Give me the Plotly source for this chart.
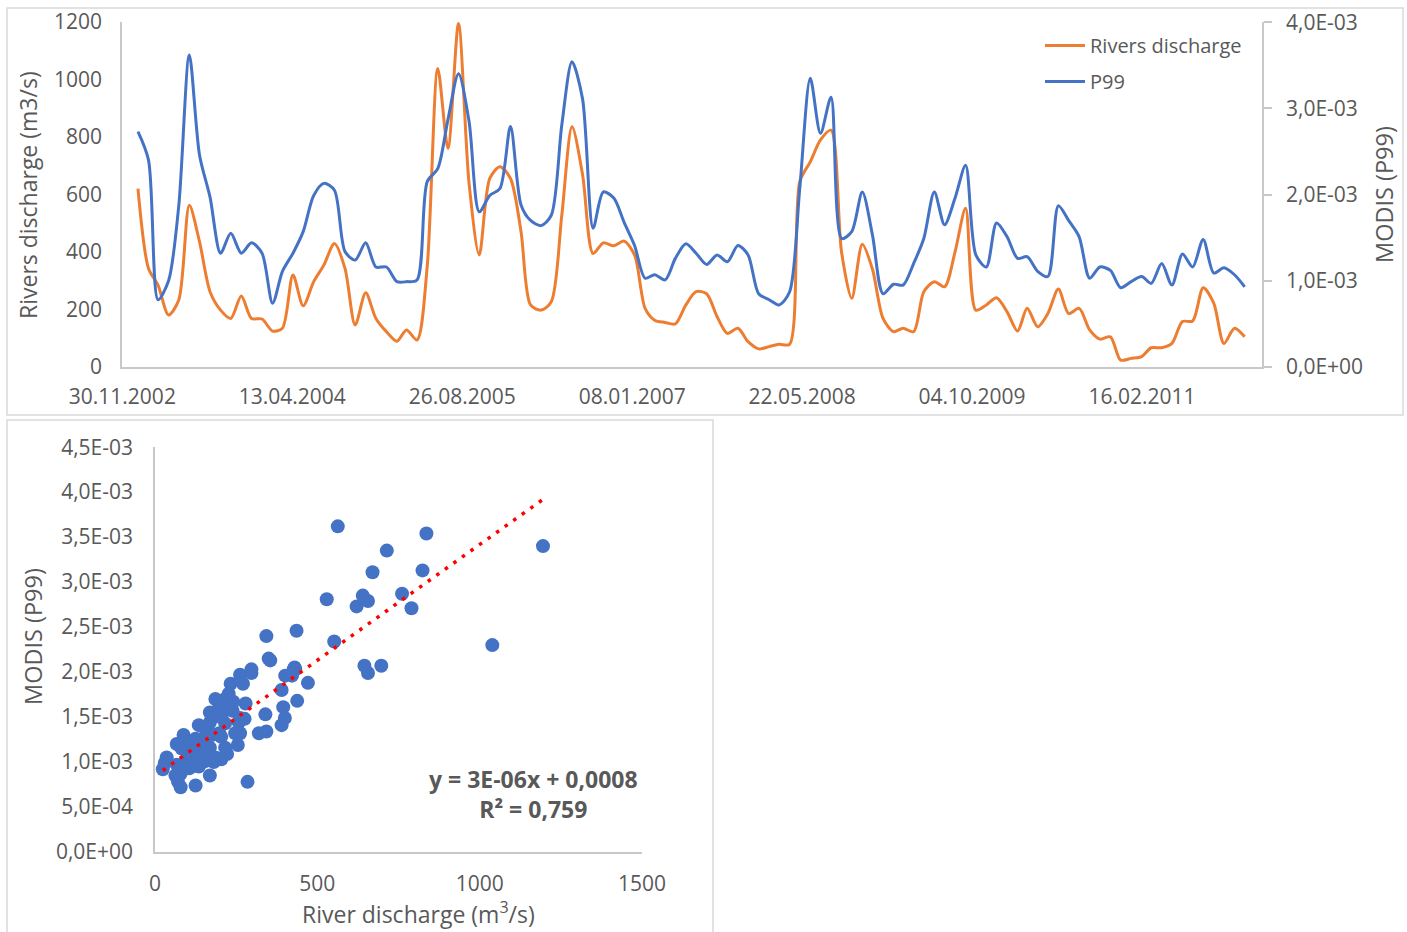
import numpy as np
import pandas as pd
import plotly.graph_objects as go

# ---------------- data ----------------
tick_labels = ["30.11.2002", "13.04.2004", "26.08.2005", "08.01.2007",
               "22.05.2008", "04.10.2009", "16.02.2011"]

# monthly values, Jan 2003 .. Dec 2011
dates = pd.date_range("2003-01-01", periods=108, freq="MS") + pd.Timedelta(days=14)

discharge = [621, 343, 285, 181, 233, 563, 436, 262, 198, 169, 247, 169,
             167, 125, 135, 320, 213, 297, 355, 430, 343, 146, 258, 169,
             123, 90, 129, 94, 350, 1039, 761, 1195, 640, 390, 656, 697,
             656, 471, 216, 198, 227, 529, 836, 670, 395, 432, 422, 438,
             390, 204, 163, 155, 150, 216, 262, 255, 175, 117, 135, 88,
             63, 71, 79, 79, 645, 714, 790, 824, 400, 239, 427, 340,
             169, 123, 135, 123, 262, 297, 279, 401, 552, 198, 216, 241,
             192, 125, 204, 140, 186, 271, 186, 204, 129, 97, 105, 24,
             30, 36, 67, 67, 82, 158, 160, 276, 222, 82, 135, 105]

p99 = [2.73e-3, 2.40e-3, 0.78e-3, 1.00e-3, 1.87e-3, 3.62e-3, 2.46e-3, 1.97e-3, 1.32e-3, 1.55e-3, 1.32e-3, 1.44e-3,
       1.32e-3, 0.74e-3, 1.11e-3, 1.32e-3, 1.57e-3, 1.99e-3, 2.13e-3, 2.05e-3, 1.34e-3, 1.24e-3, 1.44e-3, 1.16e-3,
       1.16e-3, 0.99e-3, 0.99e-3, 1.01e-3, 2.15e-3, 2.30e-3, 2.87e-3, 3.40e-3, 2.85e-3, 1.80e-3, 1.99e-3, 2.07e-3,
       2.79e-3, 1.88e-3, 1.70e-3, 1.64e-3, 1.76e-3, 2.81e-3, 3.54e-3, 3.11e-3, 1.61e-3, 2.03e-3, 1.96e-3, 1.68e-3,
       1.41e-3, 1.03e-3, 1.07e-3, 1.01e-3, 1.26e-3, 1.43e-3, 1.32e-3, 1.19e-3, 1.30e-3, 1.22e-3, 1.41e-3, 1.30e-3,
       0.85e-3, 0.78e-3, 0.72e-3, 0.87e-3, 2.07e-3, 3.35e-3, 2.71e-3, 3.13e-3, 1.49e-3, 1.57e-3, 2.03e-3, 1.53e-3,
       0.85e-3, 0.96e-3, 0.95e-3, 1.20e-3, 1.49e-3, 2.03e-3, 1.65e-3, 1.96e-3, 2.34e-3, 1.30e-3, 1.16e-3, 1.67e-3,
       1.51e-3, 1.26e-3, 1.28e-3, 1.11e-3, 1.05e-3, 1.87e-3, 1.70e-3, 1.51e-3, 1.03e-3, 1.16e-3, 1.12e-3, 0.92e-3,
       0.99e-3, 1.05e-3, 0.97e-3, 1.20e-3, 0.95e-3, 1.31e-3, 1.16e-3, 1.48e-3, 1.09e-3, 1.15e-3, 1.07e-3, 0.93e-3]

left_ticks = [0, 200, 400, 600, 800, 1000, 1200]
right_tickvals = [0, 1e-3, 2e-3, 3e-3, 4e-3]
right_ticktext = ["0,0E+00", "1,0E-03", "2,0E-03", "3,0E-03", "4,0E-03"]
sc_ytickvals = [0, 0.5e-3, 1e-3, 1.5e-3, 2e-3, 2.5e-3, 3e-3, 3.5e-3, 4e-3, 4.5e-3]
sc_yticktext = ["0,0E+00", "5,0E-04", "1,0E-03", "1,5E-03", "2,0E-03",
                "2,5E-03", "3,0E-03", "3,5E-03", "4,0E-03", "4,5E-03"]
sc_xticks = [0, 500, 1000, 1500]

# ---------------- style ----------------
W, H = 1407, 932
FONT = "Open Sans"
TXT = "#595959"
ORANGE = "#ED7D31"
BLUE = "#4472C4"
AXC = "#C8C8C8"


def px(x):
    return x / W


def py(y):
    return 1 - y / H


fig = go.Figure()

fig.add_trace(go.Scatter(x=dates, y=discharge, name="Rivers discharge", mode="lines",
                         legendgroup="a",
                         line=dict(color=ORANGE, width=3, shape="spline", smoothing=0.8),
                         xaxis="x", yaxis="y"))
fig.add_trace(go.Scatter(x=dates, y=p99, name="P99", mode="lines", legendgroup="b",
                         line=dict(color=BLUE, width=3, shape="spline", smoothing=0.8),
                         xaxis="x", yaxis="y2"))

# scatter
fig.add_trace(go.Scatter(x=discharge, y=p99, mode="markers", showlegend=False,
                         marker=dict(color=BLUE, size=14, line=dict(width=0)),
                         xaxis="x2", yaxis="y3"))
slope, intercept = np.polyfit(discharge, p99, 1)
xs = np.array([min(discharge), max(discharge)])
fig.add_trace(go.Scatter(x=xs, y=slope * xs + intercept, mode="lines", showlegend=False,
                         line=dict(color="#FF0000", width=3.5, dash="3.5px,7px"),
                         xaxis="x2", yaxis="y3"))

tick_dates = pd.to_datetime(tick_labels, format="%d.%m.%Y")

common = dict(showgrid=False, zeroline=False, showline=True, linecolor=AXC,
              linewidth=1.5, automargin=False)


def ann(text, x, y, size, angle=0):
    return dict(text=text, x=px(x), y=py(y), xref="paper", yref="paper",
                xanchor="center", yanchor="middle", textangle=angle,
                showarrow=False, align="center", font=dict(size=size, color=TXT))


fig.update_layout(
    width=W, height=H, autosize=False,
    margin=dict(l=0, r=0, t=0, b=0, pad=0),
    paper_bgcolor="white", plot_bgcolor="white",
    font=dict(family=FONT, size=21, color=TXT),
    xaxis=dict(domain=[px(122), px(1262)], anchor="y",
               range=["2002-11-29", "2012-02-04"],
               tickvals=tick_dates, ticktext=tick_labels,
               ticks="", ticklabelstandoff=10, tickfont=dict(size=21, color=TXT), **common),
    yaxis=dict(domain=[py(367), py(22)], anchor="x", range=[0, 1200.5],
               tickvals=left_ticks, ticks="",
               ticklabelstandoff=14, tickfont=dict(size=21, color=TXT), **common),
    yaxis2=dict(overlaying="y", side="right", anchor="x", range=[0, 4.0017e-3],
                tickvals=right_tickvals, ticktext=right_ticktext,
                ticks="outside", ticklen=8, tickcolor=AXC, tickwidth=1.5,
                ticklabelstandoff=10, tickfont=dict(size=21, color=TXT), **common),
    xaxis2=dict(domain=[px(155), px(642)], anchor="y3", range=[0, 1500],
                tickvals=sc_xticks, ticks="", ticklabelstandoff=12,
                tickfont=dict(size=21, color=TXT), **common),
    yaxis3=dict(domain=[py(852), py(447)], anchor="x2", range=[0, 4.5e-3 * 1.0004],
                tickvals=sc_ytickvals, ticktext=sc_yticktext,
                ticks="", ticklabelstandoff=16, tickfont=dict(size=21, color=TXT), **common),
    legend=dict(x=px(1040), y=py(26), xanchor="left", yanchor="top",
                bgcolor="rgba(0,0,0,0)", font=dict(size=20, color=TXT),
                itemwidth=40, tracegroupgap=7),
    shapes=[
        dict(type="rect", xref="paper", yref="paper", x0=px(7), x1=px(1403),
             y0=py(415), y1=py(8), line=dict(color="#D9D9D9", width=1.5)),
        dict(type="rect", xref="paper", yref="paper", x0=px(7), x1=px(713),
             y0=py(940), y1=py(420), line=dict(color="#D9D9D9", width=1.5)),
    ],
    annotations=[
        ann("Rivers discharge (m3/s)", 28, 195, 23, -90),
        ann("MODIS (P99)", 1384, 195, 23.5, -90),
        ann("MODIS (P99)", 33, 637, 23.5, -90),
        ann("River discharge (m<sup>3</sup>/s)", 418, 913, 23),
        ann("<b>y = 3E-06x + 0,0008</b><br><b>R² = 0,759</b>", 533, 794, 23),
    ],
)

fig.write_html("out.html", config={"displayModeBar": False},
               post_script="document.body.style.margin='0px';")
